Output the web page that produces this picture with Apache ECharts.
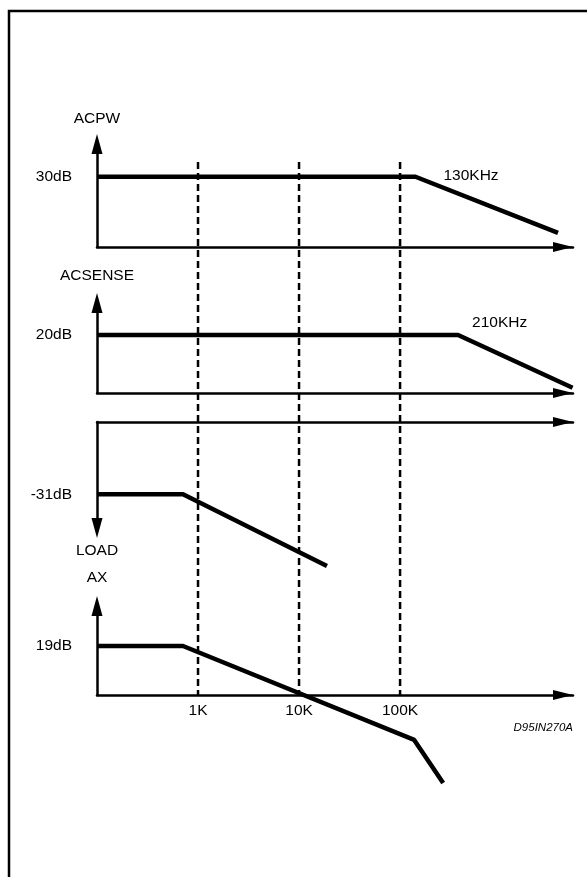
<!DOCTYPE html>
<html><head><meta charset="utf-8">
<style>html,body{margin:0;padding:0;background:#fff}#c{width:587px;height:877px}</style>
<script src="https://cdn.jsdelivr.net/npm/echarts@6/dist/echarts.min.js"></script>
</head><body><div id="c"></div>
<script>
// ---- data ----
const panelNames = ['ACPW', 'ACSENSE', 'LOAD', 'AX'];
const panelGainLabels = [30, 20, -31, 19];
const acpwFreq = [100, 142000, 3660000];
const acpwGain = [30, 30, 6];
const acsenseFreq = [100, 375000, 5100000];
const acsenseGain = [20, 20, 1.8];
const loadFreq = [100, 710, 18900];
const loadGain = [-31, -31, -61.8];
const axFreq = [100, 710, 138000, 267000];
const axGain = [19, 19, -17.4, -34.1];
const cornerLabels = ['130KHz', '210KHz'];
const gridFreqs = [1000, 10000, 100000];
const freqTickLabels = ['1K', '10K', '100K'];
const noteText = 'D95IN270A';

// ---- layout / style ----
const FONT = "'Liberation Sans', Arial, Helvetica, sans-serif";
const FS = 15.5;
const L = 97, W = 476;
const FMIN = 100, FMAX = 5.15e6;
const panels = [
  {top: 144, h: 103, ymin: 0, ymax: 44, pos: 'bottom', arrowAt: 'end', nameGap: 17},
  {top: 303, h: 90, ymin: 0, ymax: 31, pos: 'bottom', arrowAt: 'end', nameGap: 19},
  {top: 422, h: 106, ymin: -45.5, ymax: 0, pos: 'top', arrowAt: 'start', nameGap: 15},
  {top: 606, h: 89, ymin: 0, ymax: 34.5, pos: 'bottom', arrowAt: 'end', nameGap: 20}
];
const lineData = [
  [acpwFreq, acpwGain],
  [acsenseFreq, acsenseGain],
  [loadFreq, loadGain],
  [axFreq, axGain]
];
const cornerLabelStyle = [
  {distance: 28, offset: [0, -1]},
  {distance: 14, offset: [0, -12]}
];

const grids = panels.map(p => ({left: L, top: p.top, width: W, height: p.h, containLabel: false}));
grids.push({left: L, top: 162, width: W, height: 533, containLabel: false});

const xAxes = panels.map((p, i) => ({
  type: 'log', logBase: 10, min: FMIN, max: FMAX, gridIndex: i, position: p.pos,
  axisLine: {show: true, onZero: false, symbol: ['none', 'triangle'], symbolSize: [10, 20],
    symbolOffset: [0, -10],
    lineStyle: {color: '#000', width: 2.5}},
  axisTick: {show: false}, splitLine: {show: false}, minorTick: {show: false},
  axisLabel: i === 3 ? {
    show: true, margin: 8, fontSize: FS, color: '#000', fontFamily: FONT,
    formatter: v => {
      const k = gridFreqs.findIndex(f => Math.abs(f - v) / f < 1e-6);
      return k >= 0 ? freqTickLabels[k] : '';
    }
  } : {show: false}
}));
xAxes.push({type: 'log', logBase: 10, min: FMIN, max: FMAX, gridIndex: 4, show: false});

const yAxes = panels.map((p, i) => ({
  type: 'value', gridIndex: i, min: p.ymin, max: p.ymax,
  axisLine: {show: true, onZero: false,
    symbol: p.arrowAt === 'end' ? ['none', 'triangle'] : ['triangle', 'none'],
    symbolSize: [11, 20], lineStyle: {color: '#000', width: 2.5}},
  axisTick: {show: false}, splitLine: {show: false},
  axisLabel: {show: true, customValues: [panelGainLabels[i]], formatter: v => v + 'dB',
    margin: 25, fontSize: FS, color: '#000', fontFamily: FONT},
  name: panelNames[i], nameLocation: p.arrowAt, nameGap: p.nameGap,
  nameTextStyle: {fontSize: FS, color: '#000', fontFamily: FONT}
}));
yAxes.push({type: 'value', gridIndex: 4, min: 0, max: 1, show: false});

const series = [];
gridFreqs.forEach(f => {
  series.push({
    type: 'line', xAxisIndex: 4, yAxisIndex: 4, data: [[f, 1], [f, 0]],
    symbol: 'none', silent: true, animation: false,
    lineStyle: {color: '#000', width: 2.5, type: [7, 4]}
  });
});
lineData.forEach(([fr, g], i) => {
  const data = fr.map((f, k) => {
    const item = {value: [f, g[k]]};
    if (k === 1 && i < 2) {
      item.label = Object.assign({show: true, formatter: cornerLabels[i], position: 'right',
        color: '#000', fontSize: FS, fontFamily: FONT}, cornerLabelStyle[i]);
    }
    return item;
  });
  series.push({
    type: 'line', xAxisIndex: i, yAxisIndex: i, data,
    symbol: 'circle', symbolSize: 0, showSymbol: true, clip: false, silent: true, animation: false,
    itemStyle: {color: '#000'},
    lineStyle: {color: '#000', width: 4.5}
  });
});

const chart = echarts.init(document.getElementById('c'), null, {renderer: 'canvas'});
chart.setOption({
  backgroundColor: '#fff',
  animation: false,
  title: {text: noteText, right: 9, top: 717,
    textStyle: {fontStyle: 'italic', fontWeight: 'normal', fontSize: 11.5, color: '#000', fontFamily: FONT}},
  graphic: [{type: 'rect', silent: true, z: -1,
    shape: {x: 9, y: 11, width: 640, height: 900},
    style: {fill: 'none', stroke: '#000', lineWidth: 2.5}}],
  grid: grids,
  xAxis: xAxes,
  yAxis: yAxes,
  series
});
</script>
</body></html>
